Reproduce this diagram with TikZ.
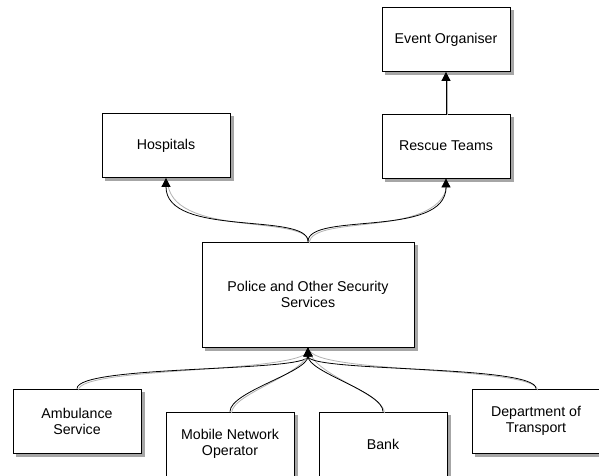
\documentclass[tikz,border=0pt]{standalone}
\usepackage{fontspec}
\setmainfont{Liberation Sans}
\usetikzlibrary{arrows.meta}

\begin{document}
\begin{tikzpicture}[x=1pt, y=-1pt, line width=0.8pt, >={Triangle[length=9pt,width=9pt]}]
    \tikzstyle{agency}=[draw, fill=white, rectangle, minimum width=128pt, minimum height=64pt, inner sep=2pt, align=center, font=\fontsize{14.2}{16}\selectfont, preaction={draw=black!35, fill=black!35, transform canvas={shift={(3pt,-3pt)}}}]
    \tikzstyle{link}=[->, preaction={draw, black!30, -, transform canvas={shift={(1.5pt,-1.5pt)}}}]

    \useasboundingbox (0,0) rectangle (599,475);

    \node[agency] (evt) at (446,39.5) {Event Organiser};
    \node[agency] (resc) at (446,146) {Rescue Teams};
    \node[agency] (hosp) at (166,145.5) {Hospitals};
    \node[agency, minimum width=212pt, minimum height=105pt] (police) at (308,294.5) {Police and Other Security\\Services};

    \node[agency] (amb) at (77,421) {Ambulance\\Service};
    \node[agency] (mob) at (230,444) {Mobile Network\\Operator};
    \node[agency] (bank) at (383,444) {Bank};
    \node[agency] (dept) at (536,421) {Department of\\Transport};

    \foreach \dest in {hosp,resc}
        \draw[link] (police.north) .. controls +(0,-30) and +(0,60) .. (\dest.south);

    \draw[link] (resc.north) -- (evt.south);

    \foreach \source/\lift in {amb/24,mob/20,bank/20,dept/24}
        \draw[link] (\source.north) .. controls +(0,-\lift) and +(0,25) .. (police.south);
\end{tikzpicture}
\end{document}
